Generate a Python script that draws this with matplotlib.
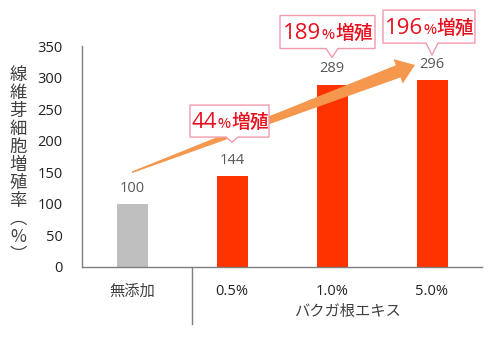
import numpy as np
import matplotlib
matplotlib.use("Agg")
import matplotlib.pyplot as plt
from matplotlib.patches import Polygon

plt.rcParams["font.family"] = ["Open Sans", "Noto Sans CJK JP", "DejaVu Sans"]
CJK = ["Noto Sans CJK JP", "DejaVu Sans"]

# データ
categories = ["無添加", "0.5%", "1.0%", "5.0%"]
values = [100, 144, 289, 296]
increase = [None, 44, 189, 196]
group_label = "バクガ根エキス"
ylabel = "線維芽細胞増殖率︵%︶"
yticks = [0, 50, 100, 150, 200, 250, 300, 350]

BAR_COLORS = ["#BFBFBF", "#FF3300", "#FF3300", "#FF3300"]
RED = "#E8101E"
PINK = "#F29AAE"
ARROW = "#F5984E"
GRAY_TXT = "#595959"

W, H = 496, 338
fig = plt.figure(figsize=(W / 100, H / 100), dpi=100)
ax = fig.add_axes([82 / W, 71 / H, 400 / W, 221 / H])

x = np.arange(len(categories))
ax.bar(x, values, width=0.31, color=BAR_COLORS, zorder=2)
ax.set_xlim(-0.5, len(categories) - 0.5)
ax.set_ylim(0, 350)
ax.set_yticks(yticks)
ax.set_xticks([])
ax.tick_params(axis="y", length=0, pad=14, labelsize=10.5, labelcolor="#222222")
for s in ["top", "right"]:
    ax.spines[s].set_visible(False)
for s in ["left", "bottom"]:
    ax.spines[s].set_color("#7F7F7F")
    ax.spines[s].set_linewidth(1.0)

# 値ラベル
for xi, v in zip(x, values):
    ax.annotate(str(v), (xi, v), xytext=(0, 6), textcoords="offset points",
                ha="center", va="bottom", fontsize=10.5, color=GRAY_TXT)

# カテゴリラベル
for xi, c in zip(x, categories):
    ax.text(xi, -0.11, c, transform=ax.get_xaxis_transform(), ha="center", va="center",
            fontsize=11 if xi == 0 else 10.5, color="#404040" if xi == 0 else "#222222",
            family=CJK if xi == 0 else None)
ax.text(2.15, -0.2, group_label, transform=ax.get_xaxis_transform(),
        ha="center", va="center", fontsize=11, color="#404040", family=CJK)
# 区切り線
ax.plot([0.6, 0.6], [0, -0.26], transform=ax.get_xaxis_transform(),
        color="#7F7F7F", lw=1.0, clip_on=False)

# 縦書きの軸ラベル
fig.text(18 / W, 1 - 165 / H, "\n".join(ylabel), ha="center", va="center",
         fontsize=12.5, color="#404040", linespacing=1.0, family=CJK)

fig.canvas.draw()
renderer = fig.canvas.get_renderer()
to_px = ax.transData.transform

# 増加を示す矢印（先細りの尾）
p0 = to_px((0.0, 150))
p1 = to_px((2.83, 320))
d = (p1 - p0) / np.linalg.norm(p1 - p0)
n = np.array([-d[1], d[0]])
head_len, head_w, tail_w, neck_w = 18, 13, 0.8, 6.5
neck = p1 - d * head_len
arrow_pts = [p0 + n * tail_w, neck + n * neck_w, neck + n * head_w, p1,
             neck - n * head_w, neck - n * neck_w, p0 - n * tail_w]
fig.patches.append(Polygon(arrow_pts, closed=True, facecolor=ARROW, edgecolor="none",
                           transform=None, zorder=3))

# 吹き出し
boxes = {1: (34, -42, 37, 5, 32), 2: (27, -52, 43, 9, 33), 3: (25, -49, 43, 12, 33)}
for i, (lift, left, right, gap, bh) in boxes.items():
    bx, by = to_px((i, values[i]))
    tip = np.array([bx, by + lift])
    b = tip[1] + gap
    pts = [tip, (tip[0] + 6, b), (tip[0] + right, b), (tip[0] + right, b + bh),
           (tip[0] + left, b + bh), (tip[0] + left, b), (tip[0] - 6, b)]
    fig.patches.append(Polygon(pts, closed=True, facecolor="white", edgecolor=PINK,
                               lw=1.0, transform=None, zorder=5))
    parts = [(str(increase[i]), 16, None), ("%", 10, CJK), ("増殖", 13.5, CJK)]
    texts = []
    for s, fs, fam in parts:
        t = fig.text(0, 0, s, fontsize=fs, color=RED, ha="left", va="baseline",
                     transform=None, zorder=6, family=fam, weight="medium")
        texts.append(t)
    widths = [t.get_window_extent(renderer).width for t in texts]
    cx = tip[0] + (left + right) / 2
    xs = cx - sum(widths) / 2
    base = b + bh / 2 - 7
    for t, w in zip(texts, widths):
        t.set_position((xs, base))
        xs += w + 0.5

fig.savefig("out.png", dpi=100)
